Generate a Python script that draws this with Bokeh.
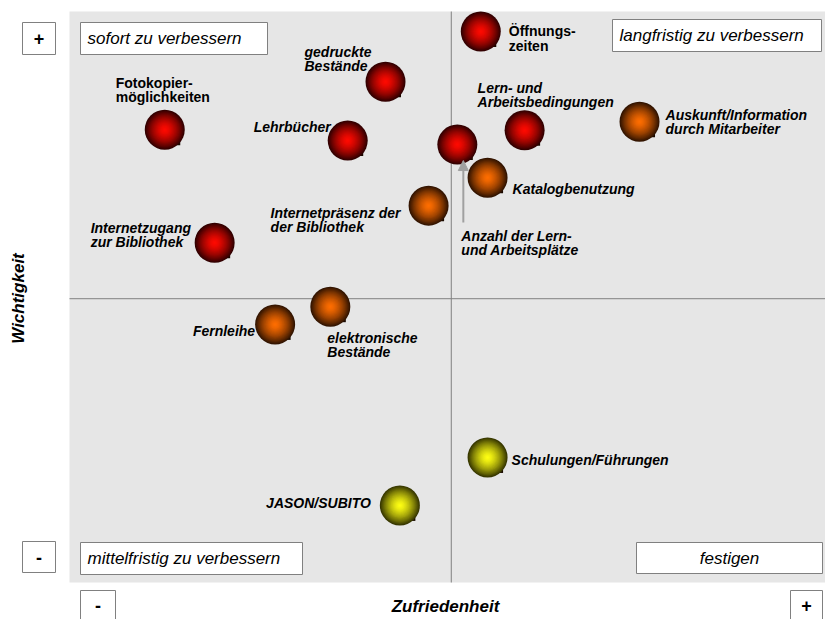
import math
from bokeh.plotting import figure
from bokeh.models import Range1d, Arrow, NormalHead
from bokeh.core.properties import value
from bokeh.embed import file_html
from bokeh.resources import INLINE

# ---------------- data ----------------
labels = [
    "Öffnungs-\nzeiten",
    "Auskunft/Information\ndurch Mitarbeiter",
    "Lern- und\nArbeitsbedingungen",
    "Anzahl der Lern-\nund Arbeitsplätze",
    "Katalogbenutzung",
    "Internetpräsenz der\nder Bibliothek",
    "gedruckte\nBestände",
    "Lehrbücher",
    "Fotokopier-\nmöglichkeiten",
    "Internetzugang\nzur Bibliothek",
    "Fernleihe",
    "elektronische\nBestände",
    "Schulungen/Führungen",
    "JASON/SUBITO",
]
zufriedenheit = [54.4, 75.4, 60.2, 51.3, 55.3, 47.5, 41.8, 36.8, 12.6, 19.2, 27.2, 34.5, 55.3, 43.7]
wichtigkeit = [96.5, 80.7, 79.2, 76.7, 70.9, 66.0, 87.7, 77.4, 79.3, 59.5, 45.2, 48.3, 21.9, 13.5]
gruppe = ["rot", "orange", "rot", "rot", "orange", "orange", "rot", "rot",
          "rot", "rot", "orange", "orange", "gelb", "gelb"]
x_mitte = 50.5
y_mitte = 49.7
quadranten = ["sofort zu verbessern", "langfristig zu verbessern",
              "mittelfristig zu verbessern", "festigen"]
x_titel = "Zufriedenheit"
y_titel = "Wichtigkeit"

# ---------------- layout ----------------
W, H, M = 825, 619, 0
PX0, PX1, PY0, PY1 = 69, 825, 11, 582
XS = (PX1 - PX0) / 100.0
YS = (PY1 - PY0) / 100.0


def X(px):
    return (px - PX0) / XS


def Y(py):
    return (PY1 - py) / YS


FONT = value("Liberation Sans")
GRID = "#808080"

p = figure(width=W, height=H, output_backend="svg", toolbar_location=None,
           x_range=Range1d(X(M), X(M + W)), y_range=Range1d(Y(M + H), Y(M)),
           x_axis_location=None, y_axis_location=None,
           min_border=0, min_border_left=0, min_border_right=0,
           min_border_top=0, min_border_bottom=0)
p.grid.visible = False
p.outline_line_color = None
p.background_fill_color = "white"
p.border_fill_color = "white"

# gray plot area
p.quad(left=[0], right=[100], bottom=[0], top=[100], fill_color="#e6e6e6", line_color=None)
# quadrant lines
p.segment(x0=[x_mitte, 0], y0=[0, y_mitte], x1=[x_mitte, 100], y1=[100, y_mitte],
          line_color=GRID, line_width=1)

# quadrant boxes
boxes = [  # (l, r, t, b) px, text x, align
    (80, 267, 22, 54, 87, "left"),
    (612, 821, 19, 51, 619, "left"),
    (80, 302, 542, 574, 87, "left"),
    (636, 822, 542, 573, 729, "center"),
]
for (l, r, t, b, tx, al), name in zip(boxes, quadranten):
    p.quad(left=[X(l)], right=[X(r)], top=[Y(t)], bottom=[Y(b)],
           fill_color="white", line_color=GRID, line_width=1)
    p.text(x=[X(tx)], y=[Y((t + b) / 2)], text=[name], text_align=al,
           text_baseline="middle", text_font=FONT, text_font_size="17px",
           text_font_style="italic", text_color="black")

# +/- boxes
pm = [(22, 55, 22, 54, "+"), (22, 55, 541, 572, "-"),
      (80, 115, 590, 625, "-"), (790, 822, 590, 625, "+")]
for l, r, t, b, s in pm:
    p.quad(left=[X(l)], right=[X(r)], top=[Y(t)], bottom=[Y(b)],
           fill_color="white", line_color=GRID, line_width=1)
    cy = (t + 619) / 2 if b > 619 else (t + b) / 2
    p.text(x=[X((l + r) / 2)], y=[Y(cy)], text=[s], text_align="center",
           text_baseline="middle", text_font=FONT, text_font_size="18px",
           text_font_style="bold", text_color="black")

# axis titles
p.text(x=[X(445)], y=[Y(606)], text=[x_titel], text_align="center",
       text_baseline="middle", text_font=FONT, text_font_size="17px",
       text_font_style="bold italic", text_color="black")
p.text(x=[X(18)], y=[Y(298)], text=[y_titel], angle=math.pi / 2, text_align="center",
       text_baseline="middle", text_font=FONT, text_font_size="17px",
       text_font_style="bold italic", text_color="black")

# arrow pointing at "Anzahl der Lern- und Arbeitsplätze"
ia = 3
p.add_layout(Arrow(end=NormalHead(size=10, fill_color="#a0a0a0", line_color="#a0a0a0"),
                   x_start=zufriedenheit[ia] + 6 / XS, y_start=wichtigkeit[ia] - 78 / YS,
                   x_end=zufriedenheit[ia] + 6 / XS, y_end=wichtigkeit[ia] - 16 / YS,
                   line_color="#a0a0a0", line_width=2))

# spheres
centers = {"rot": (255, 10, 0), "orange": (255, 110, 0), "gelb": (255, 255, 20)}
edges = {"rot": (50, 0, 0), "orange": (50, 20, 0), "gelb": (55, 55, 0)}
D = 40
# shadow notch
p.scatter(x=[v + 12.5 / XS for v in zufriedenheit], y=[v - 12.5 / YS for v in wichtigkeit],
          marker="square", size=6, fill_color="#1a0a00", line_color=None)
N = 20
for k in range(N):
    t = 1.0 - k / N
    size = D * t
    cols = []
    for g in gruppe:
        c0, c1 = centers[g], edges[g]
        tt = t ** 1.5
        rgb = [int(round(c0[j] * (1 - tt) + c1[j] * tt)) for j in range(3)]
        cols.append("#%02x%02x%02x" % tuple(rgb))
    p.scatter(x=zufriedenheit, y=wichtigkeit, size=size, fill_color=cols, line_color=None)

# labels: (dx, dy of first line center, align, style)
lab_pos = [
    (28, 0, "left", "bold"),
    (26, -7, "left", "bold italic"),
    (-47, -42, "left", "bold italic"),
    (4, 91, "left", "bold italic"),
    (25, 11, "left", "bold italic"),
    (-158, 7, "left", "bold italic"),
    (-81, -30, "left", "bold italic"),
    (-17, -14, "right", "bold italic"),
    (-49, -47, "left", "bold"),
    (-124, -15, "left", "bold italic"),
    (-20, 7, "right", "bold italic"),
    (-3, 31, "left", "bold italic"),
    (24, 3, "left", "bold italic"),
    (-29, -2, "right", "bold italic"),
]
for i, (dx, dy, al, st) in enumerate(lab_pos):
    p.text(x=[zufriedenheit[i]], y=[wichtigkeit[i]], text=[labels[i]],
           x_offset=dx, y_offset=dy - 8, text_align=al, text_baseline="top",
           text_font=FONT, text_font_size="14px", text_font_style=st,
           text_line_height=0.88, text_color="black")

open("out.html", "w").write(file_html(p, INLINE))
